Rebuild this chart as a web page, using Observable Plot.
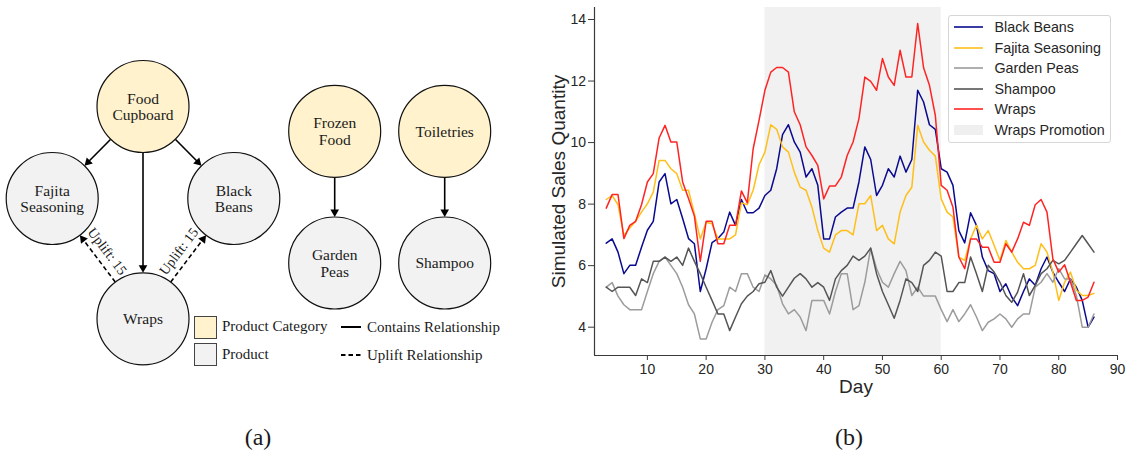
<!DOCTYPE html>
<html><head><meta charset="utf-8">
<script src="https://cdn.jsdelivr.net/npm/d3@7"></script>
<script src="https://cdn.jsdelivr.net/npm/@observablehq/plot@0.6"></script>
<style>
body{margin:0;background:#fff;}
#wrap{position:relative;width:1130px;height:451px;overflow:hidden;background:#fff;}
.abs{position:absolute;white-space:nowrap;}
.serif{font-family:"Liberation Serif","Times New Roman",serif;color:#1a1a1a;}
.sans{font-family:"Liberation Sans",Arial,sans-serif;color:#262626;}
</style></head><body><div id="wrap"></div>
<script>
// ---------------- DATA: panel (b) ----------------
const days = d3.range(3, 87);
const seriesNames = ["Black Beans", "Fajita Seasoning", "Garden Peas", "Shampoo", "Wraps"];
const blackBeans = [6.73,6.87,6.44,5.74,6.01,6.01,6.60,7.15,7.44,8.72,8.99,8.01,8.15,7.53,6.88,6.71,5.16,5.90,6.75,6.88,7.09,7.74,
  7.31,8.15,7.72,7.72,7.87,8.28,8.45,9.15,10.26,10.58,10.02,9.69,8.88,9.15,8.61,6.87,6.87,7.58,7.74,7.87,7.87,8.72,
  9.86,9.45,8.28,8.61,9.15,8.88,9.56,9.04,9.45,11.70,11.32,10.58,10.43,9.15,9.04,8.61,7.14,6.74,7.72,7.31,6.28,5.84,
  5.74,5.16,5.41,4.98,4.70,5.16,5.57,5.36,5.90,6.28,5.79,5.46,5.16,5.57,5.30,4.87,4.00,4.33];
const fajitaSeasoning = [8.15,8.28,7.98,6.98,7.22,7.44,7.74,8.01,8.39,9.42,9.42,9.15,8.99,8.45,8.45,7.69,6.87,7.41,7.36,6.87,6.87,6.87,
  7.00,8.04,7.98,8.45,9.28,9.69,10.58,10.43,9.86,9.69,9.04,8.55,8.45,7.90,7.14,6.57,6.44,7.00,7.14,7.14,7.00,8.01,
  8.01,8.28,7.14,7.31,6.87,6.71,7.74,8.28,8.55,10.56,10.02,9.75,9.56,8.17,7.74,7.58,6.28,6.17,6.87,7.31,6.87,7.14,
  6.66,6.17,6.82,6.44,6.11,5.90,5.90,6.01,6.71,6.44,5.79,4.87,5.46,5.79,5.20,5.03,5.03,5.10];
const gardenPeas = [5.30,5.45,5.01,4.73,4.57,4.57,4.57,5.16,5.74,6.14,6.28,6.01,5.74,5.30,4.73,4.43,3.62,3.62,4.16,4.57,4.70,5.30,
  5.16,5.74,5.74,5.30,5.16,5.70,5.57,5.36,4.76,4.43,4.57,4.33,3.89,4.87,4.87,4.87,4.43,5.16,5.74,5.74,4.57,4.70,
  5.46,6.57,5.90,5.46,5.30,5.74,6.14,5.84,5.03,5.30,5.01,5.01,5.01,4.57,4.18,4.57,4.18,4.43,4.73,4.33,3.89,4.16,
  4.27,4.43,4.27,4.00,4.27,4.43,4.43,5.30,5.46,5.74,5.46,5.90,5.57,5.57,5.03,4.00,4.00,4.43];
const shampoo = [5.30,5.16,5.30,5.30,5.30,5.03,5.57,5.45,6.14,6.14,6.28,6.14,6.28,6.01,6.57,6.14,5.74,5.30,4.87,4.43,4.43,3.89,
  4.33,4.76,5.01,5.16,5.41,5.46,5.84,5.30,5.01,5.30,5.59,5.74,5.57,5.30,5.45,5.30,4.87,5.57,5.84,6.01,6.31,6.17,
  6.31,6.57,5.74,5.16,4.73,4.29,4.87,5.57,5.45,5.16,6.01,6.17,6.44,6.31,5.16,5.16,5.45,5.45,6.28,5.74,5.16,6.01,
  5.79,5.46,5.03,4.81,5.14,5.74,5.03,5.36,5.74,5.90,6.17,6.06,6.17,6.44,6.71,6.98,6.71,6.44];
const wraps = [7.87,8.31,8.31,6.88,7.31,7.44,7.98,8.72,8.99,10.15,10.56,10.02,10.02,8.72,8.18,7.61,6.14,7.44,7.44,6.71,6.71,7.31,
  7.31,8.43,8.04,9.80,10.72,11.70,12.29,12.44,12.44,12.29,11.00,10.58,9.86,9.58,9.26,8.17,8.59,8.59,8.88,9.58,10.02,10.78,
  12.13,11.99,11.70,12.73,12.13,11.86,13.00,12.13,12.13,13.87,12.43,11.86,10.88,8.61,8.45,7.90,6.28,5.90,6.87,6.87,6.60,6.60,
  6.11,6.11,6.71,6.44,6.87,7.41,7.31,7.98,8.15,7.74,6.22,5.79,6.03,5.46,4.87,4.87,4.98,5.46];
const promotion = [{label: "Wraps Promotion", start: 30, end: 60}];
const xTicks = [10, 20, 30, 40, 50, 60, 70, 80, 90];
const yTicks = [4, 6, 8, 10, 12, 14];
const xLabel = "Day";
const yLabel = "Simulated Sales Quantity";

// ---------------- DATA: panel (a) ----------------
const nodeNames  = ["Food Cupboard", "Fajita Seasoning", "Black Beans", "Wraps", "Frozen Food", "Toiletries", "Garden Peas", "Shampoo"];
const nodeKinds  = ["category", "product", "product", "product", "category", "category", "product", "product"];
const nodeLabels = ["Food\nCupboard", "Fajita\nSeasoning", "Black\nBeans", "Wraps", "Frozen\nFood", "Toiletries", "Garden\nPeas", "Shampoo"];
const edgeSources = ["Food Cupboard", "Food Cupboard", "Food Cupboard", "Frozen Food", "Toiletries", "Wraps", "Wraps"];
const edgeTargets = ["Fajita Seasoning", "Black Beans", "Wraps", "Garden Peas", "Shampoo", "Fajita Seasoning", "Black Beans"];
const edgeKinds   = ["contains", "contains", "contains", "contains", "contains", "uplift", "uplift"];
const edgeLabels  = ["", "", "", "", "", "Uplift: 15", "Uplift: 15"];

// ---------------- LAYOUT / STYLE ----------------
const seriesColors = ["#0a0a8f", "#ffbf1a", "#9c9c9c", "#555555", "#ff2424"];
const nodeLayout = {
  "Food Cupboard": [142.5, 106], "Fajita Seasoning": [51.7, 198], "Black Beans": [233.3, 198],
  "Wraps": [142.5, 318.3], "Frozen Food": [334.2, 130.8], "Toiletries": [444.2, 130.8],
  "Garden Peas": [334.2, 262.5], "Shampoo": [444.2, 262.5]
};
const R = 46, HEAD = 7.5;
const wrap = document.getElementById("wrap");

// ---------- panel (a) ----------
const nodes = nodeNames.map((n, i) => ({name: n, kind: nodeKinds[i], label: nodeLabels[i], x: nodeLayout[n][0], y: nodeLayout[n][1]}));
const edges = edgeSources.map((s, i) => {
  const [sx, sy] = nodeLayout[s], [tx, ty] = nodeLayout[edgeTargets[i]];
  const L = Math.hypot(tx - sx, ty - sy), ux = (tx - sx) / L, uy = (ty - sy) / L;
  const tipx = tx - ux * R, tipy = ty - uy * R;
  let nx = -uy, ny = ux; if (ny > 0) { nx = -nx; ny = -ny; }
  let ang = Math.atan2(uy, ux) * 180 / Math.PI; if (ang > 90) ang -= 180; if (ang <= -90) ang += 180;
  const x1 = sx + ux * R, y1 = sy + uy * R;
  return {kind: edgeKinds[i], label: edgeLabels[i],
    x1, y1, x2: tipx - ux * HEAD * 0.6, y2: tipy - uy * HEAD * 0.6,
    hx: tipx - ux * HEAD * 2 / 3, hy: tipy - uy * HEAD * 2 / 3,
    hrot: Math.atan2(uy, ux) * 180 / Math.PI + 90,
    lx: (x1 + tipx) / 2 + nx * 12, ly: (y1 + tipy) / 2 + ny * 12, lrot: ang};
});

const plotA = Plot.plot({
  width: 530, height: 451, margin: 0,
  x: {type: "identity", axis: null}, y: {type: "identity", axis: null},
  style: {fontFamily: "Liberation Serif, serif", background: "transparent"},
  marks: [
    Plot.link(edges, {filter: d => d.kind === "contains", x1: "x1", y1: "y1", x2: "x2", y2: "y2", stroke: "#000", strokeWidth: 1.6}),
    Plot.link(edges, {filter: d => d.kind === "uplift", x1: "x1", y1: "y1", x2: "x2", y2: "y2", stroke: "#000", strokeWidth: 1.6, strokeDasharray: "4.5,3"}),
    Plot.dot(edges, {x: "hx", y: "hy", symbol: "triangle", r: 3.2, fill: "#000", rotate: "hrot"}),
    Plot.text(edges, {filter: d => d.label, x: "lx", y: "ly", text: "label", rotate: "lrot", fontSize: 14, fill: "#1a1a1a"}),
    Plot.dot(nodes, {filter: d => d.kind === "category", x: "x", y: "y", r: R, fill: "#fff2cc", stroke: "#111", strokeWidth: 1.2}),
    Plot.dot(nodes, {filter: d => d.kind === "product", x: "x", y: "y", r: R, fill: "#f2f2f2", stroke: "#111", strokeWidth: 1.2}),
    Plot.text(nodes, {x: "x", y: "y", text: "label", fontSize: 15.5, lineHeight: 1.08, fill: "#1a1a1a"})
  ]
});
plotA.style.position = "absolute"; plotA.style.left = "0px"; plotA.style.top = "0px";
wrap.appendChild(plotA);

function addDiv(html, cls, css, parent) {
  const d = document.createElement("div"); d.className = "abs " + cls; d.innerHTML = html;
  Object.assign(d.style, css); (parent || wrap).appendChild(d); return d;
}
// legend of panel (a)
addDiv("", "", {left: "194px", top: "315.5px", width: "21px", height: "21px", background: "#fff2cc", border: "1px solid #444"});
addDiv("", "", {left: "194px", top: "343px", width: "21px", height: "21px", background: "#f2f2f2", border: "1px solid #444"});
addDiv("Product Category", "serif", {left: "222px", top: "316px", fontSize: "15px", lineHeight: "20px"});
addDiv("Product", "serif", {left: "222px", top: "344px", fontSize: "15px", lineHeight: "20px"});
addDiv('<svg width="22" height="6"><line x1="0" y1="3" x2="20" y2="3" stroke="#000" stroke-width="2"/></svg>', "", {left: "341px", top: "323.5px", lineHeight: "0"});
addDiv('<svg width="22" height="6"><line x1="0" y1="3" x2="20" y2="3" stroke="#000" stroke-width="2" stroke-dasharray="4.5,3"/></svg>', "", {left: "341px", top: "352px", lineHeight: "0"});
addDiv("Contains Relationship", "serif", {left: "367px", top: "316.5px", fontSize: "15px", lineHeight: "20px"});
addDiv("Uplift Relationship", "serif", {left: "367px", top: "345px", fontSize: "15px", lineHeight: "20px"});
addDiv("(a)", "serif", {left: "258px", top: "437px", transform: "translate(-50%,-50%)", fontSize: "24px", lineHeight: "28px"});
addDiv("(b)", "serif", {left: "849px", top: "437px", transform: "translate(-50%,-50%)", fontSize: "24px", lineHeight: "28px"});

// ---------- panel (b) ----------
const valuesBySeries = [blackBeans, fajitaSeasoning, gardenPeas, shampoo, wraps];
const rows = seriesNames.flatMap((s, i) => days.map((d, j) => ({series: s, day: d, value: valuesBySeries[i][j]})));
const yMin = 3.08, yMax = 14.39;

const plotB = Plot.plot({
  width: 600, height: 451,
  marginLeft: 64, marginRight: 13, marginTop: 7, marginBottom: 96,
  x: {domain: [1, 90]}, y: {domain: [yMin, yMax]},
  color: {domain: seriesNames, range: seriesColors},
  style: {fontFamily: "Liberation Sans, Arial, sans-serif", background: "transparent", color: "#262626"},
  marks: [
    Plot.rect(promotion, {x1: "start", x2: "end", fill: "#f1f1f1"}),
    Plot.line(rows, {x: "day", y: "value", z: "series", stroke: "series", strokeWidth: 1.5}),
    Plot.ruleX([1], {stroke: "#3a3a3a", strokeWidth: 1.2}),
    Plot.ruleY([yMin], {stroke: "#3a3a3a", strokeWidth: 1.2}),
    Plot.axisX(xTicks, {tickSize: 5, tickPadding: 3.5, fontSize: 14, label: null, stroke: "#3a3a3a", fill: "#262626"}),
    Plot.axisY(yTicks, {tickSize: 6, tickPadding: 2.5, fontSize: 14, label: null, stroke: "#3a3a3a", fill: "#262626"}),
    Plot.text([xLabel], {text: d => d, frameAnchor: "bottom", lineAnchor: "middle", textAnchor: "middle", dy: 31, fontSize: 19, fill: "#262626"}),
    Plot.text([yLabel], {text: d => d, frameAnchor: "left", lineAnchor: "middle", textAnchor: "middle", dx: -35.5, rotate: -90, fontSize: 19, fill: "#262626"})
  ]
});
plotB.style.position = "absolute"; plotB.style.left = "530px"; plotB.style.top = "0px";
wrap.appendChild(plotB);

// legend of panel (b)
const legend = addDiv("", "sans", {left: "947.5px", top: "15px", width: "161px", height: "126px",
  background: "rgba(255,255,255,0.85)", border: "1px solid #d6d6d6", borderRadius: "3px"});
seriesNames.concat(promotion.map(p => p.label)).forEach((name, i) => {
  const cy = 11 + 20.6 * i;
  const handle = i < seriesNames.length
    ? `<svg width="30" height="12"><line x1="0" y1="6" x2="29" y2="6" stroke="${seriesColors[i]}" stroke-width="1.6"/></svg>`
    : `<svg width="30" height="12"><rect x="0" y="1" width="29" height="10" fill="#efefef"/></svg>`;
  addDiv(handle, "", {left: "5.5px", top: (cy - 6) + "px", lineHeight: "0"}, legend);
  addDiv(name, "sans", {left: "46px", top: (cy - 10) + "px", fontSize: "14.3px", lineHeight: "20px"}, legend);
});
</script></body></html>
